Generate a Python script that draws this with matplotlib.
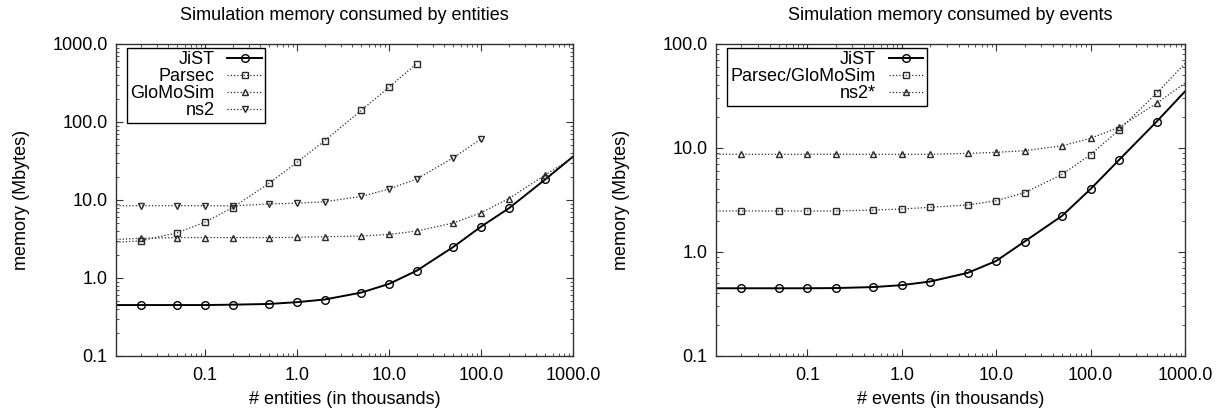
import matplotlib
matplotlib.use("Agg")
import matplotlib.pyplot as plt
from matplotlib.lines import Line2D
from matplotlib.ticker import FixedLocator, FixedFormatter, LogLocator, NullFormatter
import numpy as np

plt.rcParams['font.family'] = ['Liberation Sans', 'DejaVu Sans']
FS = 13
plt.rcParams['font.size'] = FS

# ---- data: entities panel ----
x_ent = [0.01, 0.02, 0.05, 0.1, 0.2, 0.5, 1, 2, 5, 10, 20, 50, 100, 200, 500, 1000]
jist_ent = [0.45, 0.45, 0.45, 0.45, 0.455, 0.465, 0.49, 0.53, 0.65, 0.84, 1.24, 2.5, 4.55, 7.8, 18.4, 36]
x_parsec = [0.01, 0.02, 0.05, 0.1, 0.2, 0.5, 1, 2, 5, 10, 20]
parsec_ent = [2.85, 3.0, 3.8, 5.2, 8.0, 16.4, 30.4, 57.5, 141, 279, 560]
glomo_ent = [3.1, 3.23, 3.3, 3.3, 3.3, 3.3, 3.32, 3.38, 3.45, 3.62, 4.0, 5.07, 6.87, 10.4, 21, 35]
x_ns2 = [0.01, 0.02, 0.05, 0.1, 0.2, 0.5, 1, 2, 5, 10, 20, 50, 100]
ns2_ent = [8.45, 8.45, 8.45, 8.45, 8.4, 8.9, 9.1, 9.5, 11.1, 13.8, 18.6, 34.8, 60.5]

# ---- data: events panel ----
x_evt = [0.01, 0.02, 0.05, 0.1, 0.2, 0.5, 1, 2, 5, 10, 20, 50, 100, 200, 500, 1000]
jist_evt = [0.448, 0.448, 0.448, 0.448, 0.45, 0.46, 0.48, 0.52, 0.63, 0.82, 1.26, 2.23, 4.03, 7.67, 17.9, 35]
parsec_evt = [2.48, 2.48, 2.48, 2.48, 2.48, 2.53, 2.59, 2.69, 2.83, 3.11, 3.72, 5.58, 8.63, 14.9, 33.6, 65]
ns2_evt = [8.7, 8.7, 8.7, 8.7, 8.7, 8.7, 8.7, 8.7, 8.87, 9.08, 9.42, 10.5, 12.4, 15.8, 26.9, 42]

xticks = [0.1, 1, 10, 100, 1000]
xticklabels = ["0.1", "1.0", "10.0", "100.0", "1000.0"]
yticks_ent = [0.1, 1, 10, 100, 1000]
yticklabels_ent = ["0.1", "1.0", "10.0", "100.0", "1000.0"]
yticks_evt = [0.1, 1, 10, 100]
yticklabels_evt = ["0.1", "1.0", "10.0", "100.0"]

XLIM = (0.0108, 1000)
DOT = (0, (1, 1.6))
GREY = '#2a2a2a'

fig = plt.figure(figsize=(12.22, 4.17), dpi=100)
W, H = 1222, 417
L1, R1, L2, R2, TOP, BOT = 116, 573, 716, 1185, 44, 356
axL = fig.add_axes([L1 / W, (H - BOT) / H, (R1 - L1) / W, (BOT - TOP) / H])
axR = fig.add_axes([L2 / W, (H - BOT) / H, (R2 - L2) / W, (BOT - TOP) / H])


def inside(xs):
    return [i for i, v in enumerate(xs) if XLIM[0] <= v < XLIM[1] * 0.999]


def series(ax, xs, ys, label, marker, ls, color, lw, ms):
    ax.plot(xs, ys, linestyle=ls, color=color, lw=lw, marker=marker, ms=ms,
            mfc='none', mec=color, mew=1.0, markevery=inside(xs))
    return Line2D([], [], linestyle=ls, color=color, lw=lw, marker=marker, ms=ms,
                  mfc='none', mec=color, mew=1.0, label=label)


def style(ax, yticks, ylabels, ylim, xlabel, ylab_x):
    ax.set_xscale('log')
    ax.set_yscale('log')
    ax.set_xlim(*XLIM)
    ax.set_ylim(*ylim)
    ax.xaxis.set_major_locator(FixedLocator(xticks))
    ax.xaxis.set_major_formatter(FixedFormatter(xticklabels))
    ax.yaxis.set_major_locator(FixedLocator(yticks))
    ax.yaxis.set_major_formatter(FixedFormatter(ylabels))
    ax.xaxis.set_minor_locator(LogLocator(base=10, subs=np.arange(2, 10)))
    ax.yaxis.set_minor_locator(LogLocator(base=10, subs=np.arange(2, 10)))
    ax.xaxis.set_minor_formatter(NullFormatter())
    ax.yaxis.set_minor_formatter(NullFormatter())
    ax.tick_params(which='both', direction='in', top=True, right=True, color='#333333')
    ax.tick_params(which='major', length=5, width=0.8, labelsize=FS)
    ax.tick_params(axis='x', which='major', pad=8)
    ax.tick_params(axis='y', which='major', pad=6)
    ax.tick_params(which='minor', length=2.5, width=0.6)
    for s in ax.spines.values():
        s.set_color('#333333')
        s.set_linewidth(1.0)
    ax.set_xlabel(xlabel, fontsize=FS, labelpad=5)
    ax.set_ylabel("memory (Mbytes)", fontsize=FS)
    ax.yaxis.set_label_coords(ylab_x, 0.5)


hL = [
    series(axL, x_ent, jist_ent, "JiST", 'o', '-', 'black', 1.4, 5.5),
    series(axL, x_parsec, parsec_ent, "Parsec", 's', DOT, GREY, 0.9, 5),
    series(axL, x_ent, glomo_ent, "GloMoSim", '^', DOT, GREY, 0.9, 5),
    series(axL, x_ns2, ns2_ent, "ns2", 'v', DOT, GREY, 0.9, 5),
]
style(axL, yticks_ent, yticklabels_ent, (0.1, 1000), "# entities (in thousands)",
      (30 - L1) / (R1 - L1))

hR = [
    series(axR, x_evt, jist_evt, "JiST", 'o', '-', 'black', 1.4, 5.5),
    series(axR, x_evt, parsec_evt, "Parsec/GloMoSim", 's', DOT, GREY, 0.9, 5),
    series(axR, x_evt, ns2_evt, "ns2*", '^', DOT, GREY, 0.9, 5),
]
style(axR, yticks_evt, yticklabels_evt, (0.1, 100), "# events (in thousands)",
      (630 - L2) / (R2 - L2))

for ax, hs in ((axL, hL), (axR, hR)):
    leg = ax.legend(handles=hs, loc='upper left', bbox_to_anchor=(0.024, 0.988),
                    markerfirst=False, fancybox=False, framealpha=1, edgecolor='black',
                    borderpad=0.2, labelspacing=0.0, handlelength=1.9, handletextpad=0.7,
                    borderaxespad=0, fontsize=FS, numpoints=1)
    leg.get_frame().set_linewidth(1.0)

fig.text((L1 + R1) / 2 / W, 1 - 16 / H, "Simulation memory consumed by entities",
         ha='center', va='center', fontsize=FS)
fig.text((L2 + R2) / 2 / W, 1 - 16 / H, "Simulation memory consumed by events",
         ha='center', va='center', fontsize=FS)

fig.savefig("out.png", dpi=100)
